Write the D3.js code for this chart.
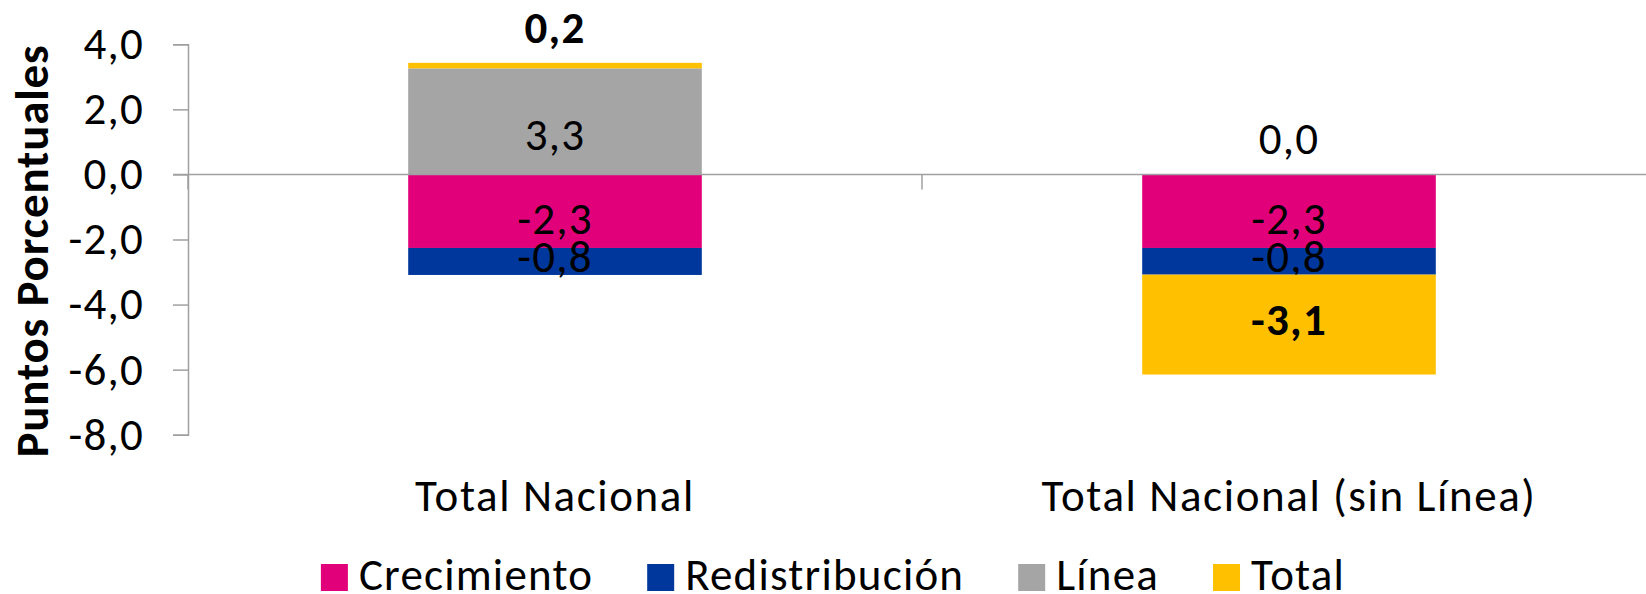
<!DOCTYPE html>
<html>
<head>
<meta charset="utf-8">
<script src="https://cdn.jsdelivr.net/npm/d3@7"></script>
<style>
  html, body { margin: 0; padding: 0; background: #fff; }
  svg { display: block; font-family: Carlito, Calibri, Lato, sans-serif; letter-spacing: 1.2px; }
</style>
</head>
<body>
<div id="root"></div>
<script>
const categories = ['Total Nacional', 'Total Nacional (sin Línea)'];
const seriesNames = ['Crecimiento', 'Redistribución', 'Línea', 'Total'];
const crecimiento = [-2.26, -2.26];
const redistribucion = [-0.83, -0.82];
const linea = [3.26, 0.0];
const total = [0.17, -3.07];
const yTicks = [4, 2, 0, -2, -4, -6, -8];

const colors = ['#E2007A', '#00379C', '#A5A5A5', '#FFC000'];
const boldSeries = ['Total'];
// small vertical nudges of the data labels, to sit like the original
const labelNudge = { 'Crecimiento': 8, 'Redistribución': -4, 'Línea': 14, 'Total': -5 };

// rows for d3.stack
const rows = categories.map((c, i) => ({
    cat: c,
    'Crecimiento': crecimiento[i],
    'Redistribución': redistribucion[i],
    'Línea': linea[i],
    'Total': total[i]
}));

const width = 1646;
const height = 594;
const fontSize = 45;
const axisColor = '#A0A0A0';

const locale = d3.formatLocale({
    decimal: ',', thousands: '.', grouping: [3], currency: ['', ''], minus: '-'
});
const fmt = locale.format('.1f');

const svg = d3.select('#root')
    .append('svg')
    .attr('width', width)
    .attr('height', height);

// Scales
const y = d3.scaleLinear()
    .domain([-8, 4])
    .range([434.7, 44.3]);

const x = d3.scaleBand()
    .domain(categories)
    .range([188, 1656])
    .paddingInner(0.6)
    .paddingOuter(0.3);

const step = x.step();

// Stack
const stack = d3.stack()
    .keys(seriesNames)
    .offset(d3.stackOffsetDiverging);
const stacked = stack(rows);

// Bars
const layers = svg.append('g')
    .selectAll('g')
    .data(stacked)
    .join('g')
    .attr('fill', (d, i) => colors[i]);

layers.selectAll('rect')
    .data(d => d)
    .join('rect')
    .attr('x', d => x(d.data.cat))
    .attr('width', x.bandwidth())
    .attr('y', d => y(Math.max(d[0], d[1])))
    .attr('height', d => Math.abs(y(d[0]) - y(d[1])));

// Y axis
const yAxis = d3.axisLeft(y)
    .tickValues(yTicks)
    .tickSize(15)
    .tickPadding(29)
    .tickFormat(fmt);

const gy = svg.append('g')
    .attr('transform', 'translate(188,0)')
    .call(yAxis);
gy.select('.domain').attr('stroke', axisColor).attr('stroke-width', 1.5);
gy.selectAll('.tick line').attr('stroke', axisColor).attr('stroke-width', 1.5);
gy.selectAll('.tick text')
    .attr('fill', '#000')
    .style('font-size', fontSize + 'px')
    .style('font-family', 'Carlito, Calibri, Lato, sans-serif');

// Zero line + category ticks
svg.append('line')
    .attr('x1', 173)
    .attr('x2', width)
    .attr('y1', y(0))
    .attr('y2', y(0))
    .attr('stroke', axisColor)
    .attr('stroke-width', 1.5);

const catEdges = [x.range()[0]].concat(categories.map(c => x(c) - x.paddingInner() * step / 2 + step));
svg.append('g')
    .selectAll('line')
    .data(catEdges)
    .join('line')
    .attr('x1', d => d)
    .attr('x2', d => d)
    .attr('y1', y(0))
    .attr('y2', y(0) + 15)
    .attr('stroke', axisColor)
    .attr('stroke-width', 1.5);

// Category labels
svg.append('g')
    .selectAll('text')
    .data(categories)
    .join('text')
    .attr('x', d => x(d) + x.bandwidth() / 2)
    .attr('y', 511)
    .attr('text-anchor', 'middle')
    .style('font-size', fontSize + 'px')
    .style('letter-spacing', '1.6px')
    .text(d => d);

// Y title
svg.append('text')
    .attr('text-anchor', 'middle')
    .attr('transform', 'translate(48,251)rotate(-90)')
    .style('font-size', '47px')
    .style('font-weight', 'bold')
    .style('letter-spacing', '0.8px')
    .text('Puntos Porcentuales');

// Data labels
layers.each(function(layer) {
    const key = layer.key;
    d3.select(this).selectAll('text')
        .data(layer)
        .join('text')
        .attr('x', d => x(d.data.cat) + x.bandwidth() / 2)
        .attr('y', d => {
            const v = d.data[key];
            if (Math.abs(v) < 0.5) return y(Math.max(d[0], d[1])) - 20;
            return y((d[0] + d[1]) / 2) + 15 + labelNudge[key];
        })
        .attr('text-anchor', 'middle')
        .attr('fill', '#000')
        .style('font-size', fontSize + 'px')
        .style('font-weight', boldSeries.includes(key) ? 'bold' : 'normal')
        .text(d => fmt(d.data[key]));
});

// Legend
const legend = svg.append('g');
let lx = 0;
seriesNames.forEach((name, i) => {
    const item = legend.append('g').attr('transform', `translate(${lx},0)`);
    item.append('rect')
        .attr('x', 0)
        .attr('y', 564)
        .attr('width', 27)
        .attr('height', 27)
        .attr('fill', colors[i]);
    const t = item.append('text')
        .attr('x', 38)
        .attr('y', 590)
        .style('font-size', fontSize + 'px')
        .text(name);
    lx += 38 + t.node().getComputedTextLength() + 54;
});
const legendW = lx - 54;
legend.attr('transform', `translate(${833 - legendW / 2},0)`);
</script>
</body>
</html>
